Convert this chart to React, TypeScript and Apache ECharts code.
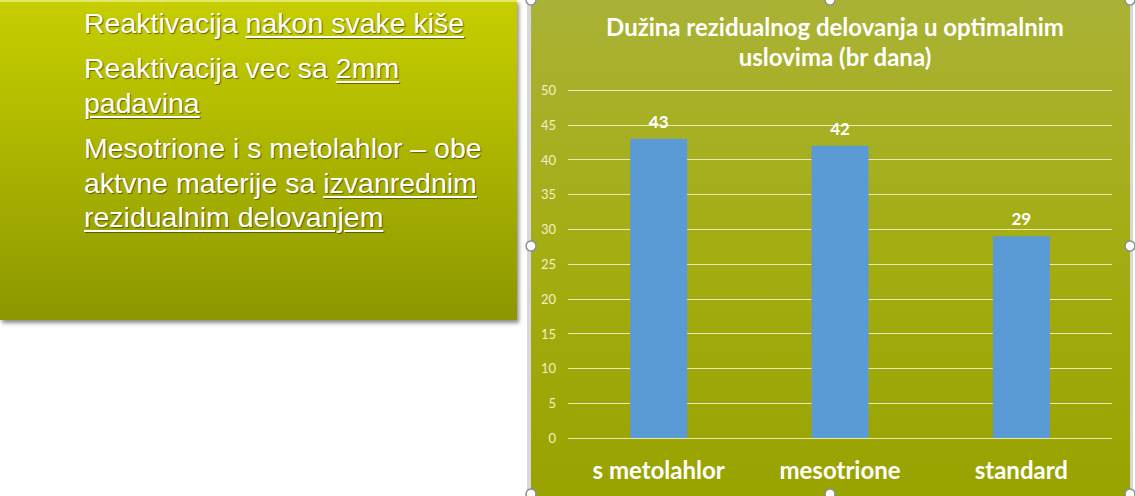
import React, { useEffect, useRef } from "react";
import * as echarts from "echarts";

// chart data
const categories = ["s metolahlor", "mesotrione", "standard"];
const days = [43, 42, 29];
const yTicks = { min: 0, max: 50, interval: 5 };
const chartTitle = "Dužina rezidualnog delovanja u optimalnim\nuslovima (br dana)";

const W = 615;
const H = 496;

// selection handles around the chart frame (PowerPoint style)
const handleXs = [11, 310, 610];
const handleYs = [0, 246, 494];

export default function App() {
  const chartRef = useRef<HTMLDivElement>(null);

  useEffect(() => {
    document.body.style.margin = "0";
    if (!chartRef.current) return;
    const chart = echarts.init(chartRef.current, undefined, { renderer: "svg" });

    const handles: any[] = [];
    handleYs.forEach((y, yi) => {
      handleXs.forEach((x, xi) => {
        if (yi === 1 && xi === 1) return;
        handles.push({
          type: "circle",
          shape: { cx: x, cy: y, r: 5 },
          style: { fill: "#ffffff", stroke: "#8a8f98", lineWidth: 1.5 },
          z: 100,
        });
      });
    });

    const option: echarts.EChartsOption = {
      animation: false,
      title: {
        text: chartTitle,
        left: 310,
        top: 6,
        textAlign: "center",
        textStyle: {
          color: "#ffffff",
          fontSize: 24,
          fontWeight: "bold",
          fontFamily: "Lato, 'Open Sans', sans-serif",
          lineHeight: 30,
        },
      },
      grid: { left: 48, right: 23, top: 90, bottom: 58 },
      xAxis: {
        type: "category",
        data: categories,
        axisLine: { show: false },
        axisTick: { show: false },
        axisLabel: {
          color: "#ffffff",
          fontSize: 24,
          fontWeight: "bold",
          fontFamily: "Lato, 'Open Sans', sans-serif",
          margin: 19,
        },
      },
      yAxis: {
        type: "value",
        min: yTicks.min,
        max: yTicks.max,
        interval: yTicks.interval,
        axisLine: { show: false },
        axisTick: { show: false },
        splitLine: { lineStyle: { color: "#ece9b4", width: 1 } },
        axisLabel: {
          color: "#f3f1c6",
          fontSize: 13,
          fontFamily: "Lato, 'Open Sans', sans-serif",
          margin: 12,
        },
      },
      series: [
        {
          type: "bar",
          data: days,
          barWidth: 57,
          itemStyle: { color: "#5b9bd5" },
          label: {
            show: true,
            position: "top",
            distance: 9,
            color: "#ffffff",
            fontSize: 17,
            fontWeight: "bold",
            fontFamily: "Lato, 'Open Sans', sans-serif",
          },
        },
      ],
      graphic: [
        {
          type: "rect",
          shape: { x: 7, y: 0, width: 4, height: H },
          style: { fill: "#d6d8dc" },
          z: -11,
          silent: true,
        },
        {
          type: "rect",
          shape: { x: 610, y: 0, width: 3, height: H },
          style: { fill: "#d6d8dc" },
          z: -11,
          silent: true,
        },
        {
          type: "rect",
          shape: { x: 11, y: 0, width: 599, height: H },
          style: {
            fill: new echarts.graphic.LinearGradient(0, 0, 0, 1, [
              { offset: 0, color: "#aab236" },
              { offset: 0.5, color: "#a4ad12" },
              { offset: 1, color: "#98a300" },
            ]),
          },
          z: -10,
          silent: true,
        },
        ...handles,
      ],
    };

    chart.setOption(option);
    return () => chart.dispose();
  }, []);

  const lineStyle: React.CSSProperties = {
    position: "absolute",
    left: 84,
    whiteSpace: "nowrap",
    fontFamily: "'Liberation Sans', Arial, sans-serif",
    fontSize: 28.5,
    lineHeight: "34.5px",
    color: "#ffffff",
    textShadow: "1px 1px 1px rgba(60,60,0,0.7)",
  };
  const u: React.CSSProperties = { textDecoration: "underline", textUnderlineOffset: 3, textDecorationThickness: 1.5 };

  return (
    <div style={{ position: "relative", width: 1135, height: H, overflow: "hidden", background: "#ffffff" }}>
      <div
        style={{
          position: "absolute",
          left: 0,
          top: 0,
          width: 517,
          height: 318,
          background: "linear-gradient(to bottom, #c6ce00 0%, #b3bc00 35%, #8c9700 100%)",
          borderTop: "2px solid #e3e86a",
          boxShadow: "2px 3px 4px rgba(0,0,0,0.45)",
        }}
      >
        <div style={{ ...lineStyle, top: 4 }}>
          Reaktivacija <span style={u}>nakon svake kiše</span>
        </div>
        <div style={{ ...lineStyle, top: 49 }}>
          Reaktivacija vec sa <span style={u}>2mm</span>
          <br />
          <span style={u}>padavina</span>
        </div>
        <div style={{ ...lineStyle, top: 129 }}>
          Mesotrione i s metolahlor – obe
          <br />
          aktvne materije sa <span style={u}>izvanrednim</span>
          <br />
          <span style={u}>rezidualnim delovanjem</span>
        </div>
      </div>
      <div ref={chartRef} style={{ position: "absolute", left: 520, top: 0, width: W, height: H }} />
    </div>
  );
}
